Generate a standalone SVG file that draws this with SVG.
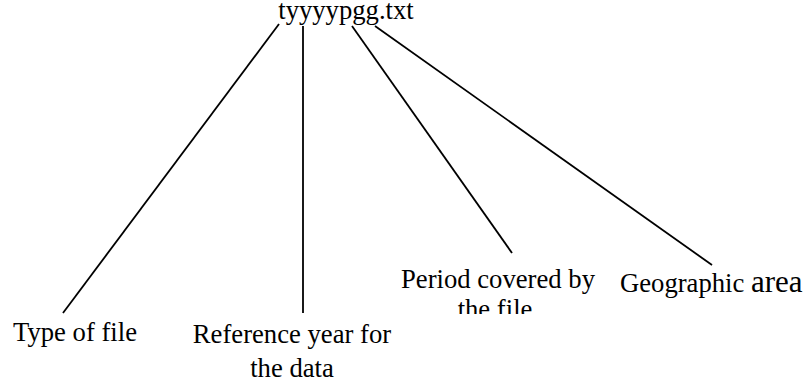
<svg xmlns="http://www.w3.org/2000/svg" width="809" height="381" viewBox="0 0 809 381">
<style>
text{font-family:"Liberation Serif","Times New Roman",serif;font-size:26.67px;fill:#000}
.big{font-size:31px}
.c line{stroke:#000;stroke-width:1.8}
</style>
<defs><clipPath id="clipP"><rect x="380" y="240" width="240" height="74"/></clipPath></defs>
<rect width="809" height="381" fill="#fff"/>
<g id="root"><text x="346" y="19" text-anchor="middle">tyyyypgg.txt</text></g>
<g class="c" id="connectors">
<line x1="279" y1="24" x2="63" y2="313"/>
<line x1="303" y1="26" x2="303" y2="313"/>
<line x1="352" y1="26" x2="512" y2="253"/>
<line x1="375" y1="26" x2="712" y2="265"/>
</g>
<g id="type"><text x="13" y="341">Type of file</text></g>
<g id="ref"><text x="292" y="343" text-anchor="middle">Reference year for</text><text x="292" y="377" text-anchor="middle">the data</text></g>
<g id="period" clip-path="url(#clipP)"><text x="498" y="288" text-anchor="middle">Period covered by</text><text x="495" y="318" text-anchor="middle">the file</text></g>
<g id="geo"><text x="620" y="292">Geographic <tspan class="big">area</tspan></text></g>
</svg>
